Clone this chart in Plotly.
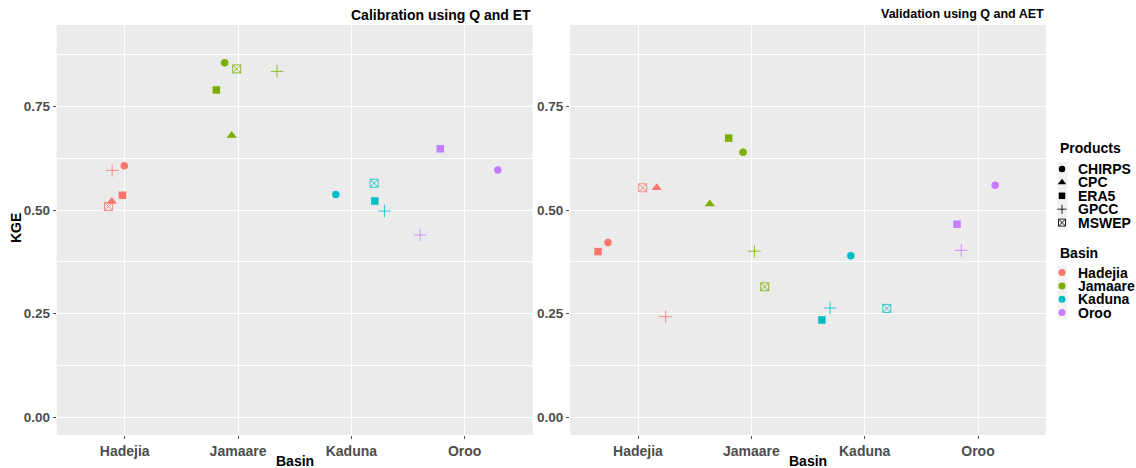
import plotly.graph_objects as go

# ---------------- data ----------------
basins = ["Hadejia", "Jamaare", "Kaduna", "Oroo"]
products = ["CHIRPS", "CPC", "ERA5", "GPCC", "MSWEP"]
basin_colors = ["#F8766D", "#7CAE00", "#00BFC4", "#C77CFF"]

y_ticks = [0.0, 0.25, 0.5, 0.75]
y_ticktext = ["0.00", "0.25", "0.50", "0.75"]
y_minor = [0.125, 0.375, 0.625, 0.875]

# Calibration using Q and ET
cal_basin = ["Hadejia", "Hadejia", "Hadejia", "Hadejia", "Hadejia",
             "Jamaare", "Jamaare", "Jamaare", "Jamaare", "Jamaare",
             "Kaduna", "Kaduna", "Kaduna", "Kaduna",
             "Oroo", "Oroo", "Oroo"]
cal_product = ["GPCC", "CHIRPS", "ERA5", "CPC", "MSWEP",
               "CHIRPS", "MSWEP", "GPCC", "ERA5", "CPC",
               "CHIRPS", "MSWEP", "ERA5", "GPCC",
               "ERA5", "CHIRPS", "GPCC"]
cal_kge = [0.596, 0.607, 0.536, 0.521, 0.509,
           0.856, 0.841, 0.835, 0.790, 0.680,
           0.538, 0.565, 0.522, 0.498,
           0.648, 0.597, 0.440]
cal_jitter = [-0.111, -0.003, -0.020, -0.114, -0.143,
              -0.118, -0.012, 0.344, -0.191, -0.056,
              -0.137, 0.201, 0.207, 0.292,
              -0.215, 0.292, -0.393]

# Validation using Q and AET
val_basin = ["Hadejia", "Hadejia", "Hadejia", "Hadejia", "Hadejia",
             "Jamaare", "Jamaare", "Jamaare", "Jamaare", "Jamaare",
             "Kaduna", "Kaduna", "Kaduna", "Kaduna",
             "Oroo", "Oroo", "Oroo"]
val_product = ["ERA5", "CHIRPS", "MSWEP", "CPC", "GPCC",
               "CPC", "ERA5", "CHIRPS", "GPCC", "MSWEP",
               "CHIRPS", "GPCC", "ERA5", "MSWEP",
               "ERA5", "GPCC", "CHIRPS"]
val_kge = [0.400, 0.422, 0.554, 0.554, 0.243,
           0.515, 0.674, 0.640, 0.401, 0.315,
           0.390, 0.264, 0.235, 0.263,
           0.466, 0.403, 0.560]
val_jitter = [-0.353, -0.265, 0.041, 0.165, 0.244,
              -0.367, -0.200, -0.073, 0.027, 0.118,
              -0.122, -0.305, -0.377, 0.195,
              -0.185, -0.148, 0.152]

# ---------------- styling ----------------
W, H = 1136, 468
FONT = "Liberation Sans, Arial, sans-serif"
symbols = {"CHIRPS": "circle", "CPC": "triangle-up", "ERA5": "square",
           "GPCC": "cross-thin-open", "MSWEP": "square-x-open"}
sizes = {"CHIRPS": 7.5, "CPC": 9, "ERA5": 7.5, "GPCC": 9, "MSWEP": 8}
leg_sizes = {"CHIRPS": 6.5, "CPC": 7.5, "ERA5": 6.5, "GPCC": 6.5, "MSWEP": 7}
open_sym = {"GPCC", "MSWEP"}

fig = go.Figure()


def add_panel(b_list, p_list, k_list, j_list, xa, ya):
    for prod in products:
        idx = [i for i, p in enumerate(p_list) if p == prod]
        if not idx:
            continue
        xs = [basins.index(b_list[i]) + 1 + j_list[i] for i in idx]
        ys = [k_list[i] for i in idx]
        cols = [basin_colors[basins.index(b_list[i])] for i in idx]
        if prod in open_sym:
            mk = dict(symbol=symbols[prod], size=sizes[prod], color=cols,
                      line=dict(width=1, color=cols), opacity=0.8)
        else:
            mk = dict(symbol=symbols[prod], size=sizes[prod], color=cols,
                      line=dict(width=0))
        fig.add_trace(go.Scatter(x=xs, y=ys, mode="markers", marker=mk,
                                 xaxis=xa, yaxis=ya, showlegend=False,
                                 hoverinfo="skip"))


add_panel(cal_basin, cal_product, cal_kge, cal_jitter, "x", "y")
add_panel(val_basin, val_product, val_kge, val_jitter, "x2", "y2")

# pixel geometry of the panels
L1, R1 = 56.7, 532.7
L2, R2 = 570.0, 1046.0
TOP, BOT = 25.0, 435.0
ydom = [(H - BOT) / H, (H - TOP) / H]

tickfont_x = dict(family=FONT, size=14, color="#4D4D4D", weight="bold")
tickfont_y = dict(family=FONT, size=13.5, color="#4D4D4D", weight="bold")

common_x = dict(range=[0.4, 4.6], tickmode="array", tickvals=[1, 2, 3, 4],
                ticktext=basins, showgrid=True, gridcolor="white", gridwidth=1.1,
                ticks="outside", ticklen=3, tickwidth=1, tickcolor="#4D4D4D",
                tickfont=tickfont_x, zeroline=False, showline=False, fixedrange=True)
common_y = dict(range=[-0.0427, 0.947], tickmode="array", tickvals=y_ticks,
                ticktext=y_ticktext, showgrid=True, gridcolor="white", gridwidth=1.1,
                ticks="outside", ticklen=3, tickwidth=1, tickcolor="#4D4D4D",
                tickfont=tickfont_y, zeroline=False, showline=False,
                minor=dict(tickmode="array", tickvals=y_minor, showgrid=True,
                           gridcolor="white", gridwidth=0.55, ticks=""),
                fixedrange=True)

fig.update_layout(
    width=W, height=H,
    margin=dict(l=0, r=0, t=0, b=0),
    paper_bgcolor="white",
    plot_bgcolor="rgba(0,0,0,0)",
    showlegend=False,
    xaxis=dict(domain=[L1 / W, R1 / W], anchor="y", **common_x),
    yaxis=dict(domain=ydom, anchor="x", **common_y),
    xaxis2=dict(domain=[L2 / W, R2 / W], anchor="y2", **common_x),
    yaxis2=dict(domain=ydom, anchor="x2", **common_y),
    xaxis3=dict(domain=[0, 1], range=[0, W], visible=False, anchor="y3", fixedrange=True),
    yaxis3=dict(domain=[0, 1], range=[H, 0], visible=False, anchor="x3", fixedrange=True),
)

# panel backgrounds
for xr, yr in (("x domain", "y domain"), ("x2 domain", "y2 domain")):
    fig.add_shape(type="rect", xref=xr, yref=yr, x0=0, x1=1, y0=0, y1=1,
                  fillcolor="#EBEBEB", line=dict(width=0), layer="below")

ann = []
# panel titles
ann.append(dict(text="Calibration using Q and ET", xref="paper", yref="paper",
                x=R1 / W, y=1 - 15 / H, xanchor="right", yanchor="middle", showarrow=False,
                font=dict(family=FONT, size=14, color="black", weight="bold")))
ann.append(dict(text="Validation using Q and AET", xref="paper", yref="paper",
                x=R2 / W, y=1 - 14 / H, xanchor="right", yanchor="middle", showarrow=False,
                font=dict(family=FONT, size=12.5, color="black", weight="bold")))
# axis titles
for cx in ((L1 + R1) / 2, (L2 + R2) / 2):
    ann.append(dict(text="Basin", xref="paper", yref="paper", x=cx / W, y=1 - 460.7 / H,
                    xanchor="center", yanchor="middle", showarrow=False,
                    font=dict(family=FONT, size=14, color="black", weight="bold")))
ann.append(dict(text="KGE", xref="paper", yref="paper", x=16.7 / W, y=1 - 228.3 / H,
                xanchor="center", yanchor="middle", showarrow=False, textangle=-90,
                font=dict(family=FONT, size=14, color="black", weight="bold")))

# ---------------- manual legend ----------------
KEY_X = 1062.0
TXT_X = 1076.0
P_TITLE_Y, P_START, P_STEP = 148.3, 169.0, 13.4
B_TITLE_Y, B_START, B_STEP = 252.8, 272.6, 13.3
legfont = dict(family=FONT, size=14, color="black", weight="bold")

for ty, label in ((P_TITLE_Y, "Products"), (B_TITLE_Y, "Basin")):
    ann.append(dict(text=label, xref="paper", yref="paper", x=1057.5 / W, y=1 - ty / H,
                    xanchor="left", yanchor="middle", showarrow=False, font=legfont))

# key backgrounds
fig.add_shape(type="rect", xref="paper", yref="paper",
              x0=1057.5 / W, x1=1067.5 / W,
              y0=1 - (P_START + P_STEP * (len(products) - 1) + 7) / H, y1=1 - (P_START - 7) / H,
              fillcolor="#F2F2F2", line=dict(width=0), layer="below")
fig.add_shape(type="rect", xref="paper", yref="paper",
              x0=1057.5 / W, x1=1067.5 / W,
              y0=1 - (B_START + B_STEP * (len(basins) - 1) + 7) / H, y1=1 - (B_START - 7) / H,
              fillcolor="#F2F2F2", line=dict(width=0), layer="below")

for i, prod in enumerate(products):
    yy = P_START + P_STEP * i
    if prod in open_sym:
        mk = dict(symbol=symbols[prod], size=leg_sizes[prod], color="black",
                  line=dict(width=1, color="black"), opacity=0.85)
    else:
        mk = dict(symbol=symbols[prod], size=leg_sizes[prod], color="black", line=dict(width=0))
    fig.add_trace(go.Scatter(x=[KEY_X], y=[yy], mode="markers", marker=mk,
                             xaxis="x3", yaxis="y3", showlegend=False, hoverinfo="skip"))
    ann.append(dict(text=prod, xref="paper", yref="paper", x=TXT_X / W, y=1 - yy / H,
                    xanchor="left", yanchor="middle", showarrow=False, font=legfont))

for i, b in enumerate(basins):
    yy = B_START + B_STEP * i
    fig.add_trace(go.Scatter(x=[KEY_X], y=[yy], mode="markers",
                             marker=dict(symbol="circle", size=7, color=basin_colors[i],
                                         line=dict(width=0)),
                             xaxis="x3", yaxis="y3", showlegend=False, hoverinfo="skip"))
    ann.append(dict(text=b, xref="paper", yref="paper", x=TXT_X / W, y=1 - yy / H,
                    xanchor="left", yanchor="middle", showarrow=False, font=legfont))

fig.update_layout(annotations=ann)
fig.write_html("out.html")
